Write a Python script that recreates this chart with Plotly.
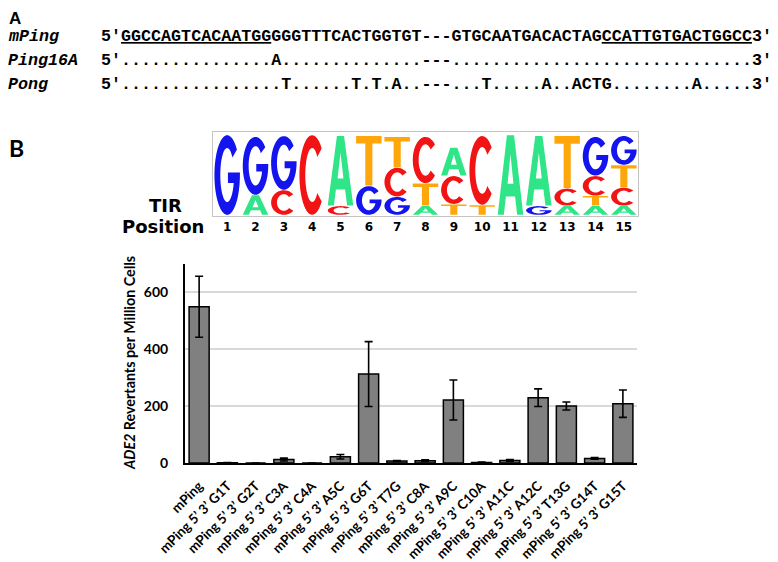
import numpy as np
import plotly.graph_objects as go

# the page body has an 8px margin, so the figure is drawn 8px in from the window corner
OFF = 8
W, H = 778 - OFF, 562 - OFF

# ---------------- data ----------------
mutants = ["mPing", "mPing 5’ 3’ G1T", "mPing 5’ 3’ G2T", "mPing 5’ 3’ C3A",
           "mPing 5’ 3’ C4A", "mPing 5’ 3’ A5C", "mPing 5’ 3’ G6T", "mPing 5’ 3’ T7G",
           "mPing 5’ 3’ C8A", "mPing 5’ 3’ A9C", "mPing 5’ 3’ C10A", "mPing 5’ 3’ A11C",
           "mPing 5’ 3’ A12C", "mPing 5’ 3’ T13G", "mPing 5’ 3’ G14T", "mPing 5’ 3’ G15T"]
revertants = [548, 1, 0, 12, 0, 22, 312, 7, 8, 221, 2, 9, 229, 200, 16, 208]
rev_err = [107, 1, 0, 5, 0, 8, 114, 2, 3, 70, 1, 3, 31, 14, 3, 48]
y_ticks = [0, 200, 400, 600]

seq_names = ["mPing", "Ping16A", "Pong"]
seq_mping_tir5 = "GGCCAGTCACAATGG"
seq_mping_mid1 = "GGGTTTCACTGGTGT"
seq_mping_mid2 = "GTGCAATGACACTAG"
seq_mping_tir3 = "CCATTGTGACTGGCC"
seq_ping16a = "...............A..............---.............................."
seq_pong = "................T......T.T.A..---...T.....A..ACTG........A....."

logo_positions = list(range(1, 16))
# stacks bottom -> top : (letter, height as fraction of logo box)
logo_stacks = [
    [("G", 0.96)],
    [("A", 0.24), ("G", 0.70)],
    [("C", 0.30), ("G", 0.65)],
    [("C", 0.96)],
    [("C", 0.11), ("A", 0.84)],
    [("G", 0.35), ("T", 0.60)],
    [("G", 0.22), ("C", 0.35), ("T", 0.37)],
    [("A", 0.11), ("T", 0.27), ("C", 0.56)],
    [("T", 0.13), ("C", 0.34), ("A", 0.34)],
    [("T", 0.12), ("C", 0.83)],
    [("A", 0.96)],
    [("G", 0.11), ("A", 0.84)],
    [("A", 0.11), ("C", 0.21), ("T", 0.63)],
    [("A", 0.11), ("T", 0.12), ("C", 0.24), ("G", 0.47)],
    [("A", 0.11), ("C", 0.22), ("T", 0.27), ("G", 0.35)],
]
letter_colors = {"A": "#2FE587", "C": "#F21414", "G": "#1414EE", "T": "#FFA70A"}

# ---------------- helpers ----------------
def px(x):
    return (x - OFF) / W

def py(y):
    return 1 - (y - OFF) / H

def arc(a0, a1, rx, ry, n=36):
    t = np.radians(np.linspace(a0, a1, n))
    return list(zip(0.5 + rx * np.cos(t), 0.5 + ry * np.sin(t)))

g_inner_start = 360 + np.degrees(np.arcsin((0.40 - 0.5) / 0.34))
GLYPHS = {
    "A": [[(0, 0), (0.36, 1), (0.64, 1), (1, 0), (0.76, 0), (0.68, 0.23), (0.32, 0.23), (0.24, 0)],
          [(0.385, 0.39), (0.615, 0.39), (0.5, 0.76)]],
    "T": [[(0, 1), (1, 1), (1, 0.85), (0.64, 0.85), (0.64, 0), (0.36, 0), (0.36, 0.85), (0, 0.85)]],
    "C": [arc(42, 318, 0.5, 0.5) + arc(318, 42, 0.27, 0.34)],
    "G": [arc(40, 356, 0.5, 0.5) + [(1.0, 0.53), (0.53, 0.53), (0.53, 0.40)]
          + arc(g_inner_start, 40, 0.27, 0.34)],
}

def glyph_path(letter, xc, y0, h, pad=0.05, gap=0.006):
    x0 = xc - 0.5 + pad
    w = 1 - 2 * pad
    y0g = y0 + gap / 2
    hg = max(h - gap, 0.001)
    parts = []
    for poly in GLYPHS[letter]:
        pts = ["%.4f,%.4f" % (x0 + u * w, y0g + v * hg) for u, v in poly]
        parts.append("M" + " L".join(pts) + " Z")
    return " ".join(parts)

# ---------------- figure ----------------
fig = go.Figure()

fig.add_trace(go.Bar(
    x=mutants, y=revertants,
    error_y=dict(type="data", array=rev_err, color="black", thickness=1.6, width=4),
    marker=dict(color="#808080", line=dict(color="black", width=1.5)),
    width=0.71, xaxis="x", yaxis="y",
))

# invisible trace so the logo axes exist
fig.add_trace(go.Scatter(x=logo_positions, y=[0] * len(logo_positions), mode="markers",
                         marker=dict(opacity=0), xaxis="x2", yaxis="y2", hoverinfo="skip"))

shapes = []
for pos, stack in zip(logo_positions, logo_stacks):
    ybase = 0.008
    for letter, h in stack:
        shapes.append(dict(type="path", xref="x2", yref="y2",
                           path=glyph_path(letter, pos, ybase, h),
                           fillcolor=letter_colors[letter], line=dict(width=0),
                           fillrule="evenodd", layer="above"))
        ybase += h

annotations = []
annotations.append(dict(text="<b>A</b>", x=px(8), y=py(8), xref="paper", yref="paper",
                        xanchor="left", yanchor="top", showarrow=False, borderpad=0,
                        font=dict(family="Liberation Sans", size=17, color="black")))
annotations.append(dict(text="<b>B</b>", x=px(7), y=py(148), xref="paper", yref="paper",
                        xanchor="left", yanchor="middle", showarrow=False,
                        font=dict(family="Lato", size=23, color="black")))

row_y = [37, 60, 85]
seq_texts = [
    "5′<u>" + seq_mping_tir5 + "</u>" + seq_mping_mid1 + "---" + seq_mping_mid2
    + "<u>" + seq_mping_tir3 + "</u>3′",
    "5′" + seq_ping16a + "3′",
    "5′" + seq_pong + "3′",
]
mono = dict(family="Liberation Mono", size=16.7, color="black")
for name, txt, yy in zip(seq_names, seq_texts, row_y):
    annotations.append(dict(text="<b><i>" + name + "</i></b>", x=px(7), y=py(yy),
                            xref="paper", yref="paper", xanchor="left", yanchor="middle",
                            showarrow=False, font=mono, borderpad=0))
    annotations.append(dict(text="<b>" + txt + "</b>", x=px(99), y=py(yy),
                            xref="paper", yref="paper", xanchor="left", yanchor="middle",
                            showarrow=False, font=mono))

annotations.append(dict(text="<b>TIR</b>", x=px(165), y=py(206), xref="paper", yref="paper",
                        showarrow=False, xanchor="center", yanchor="middle",
                        font=dict(family="DejaVu Sans", size=18, color="black")))
annotations.append(dict(text="<b>Position</b>", x=px(163), y=py(226), xref="paper", yref="paper",
                        showarrow=False, xanchor="center", yanchor="middle",
                        font=dict(family="DejaVu Sans", size=18, color="black")))

annotations.append(dict(text="<b><i>ADE2</i> Revertants per Million Cells</b>",
                        x=px(129), y=py(363), xref="paper", yref="paper", textangle=-90,
                        showarrow=False, xanchor="center", yanchor="middle",
                        font=dict(family="Lato", size=14.3, color="black")))

fig.update_layout(
    template="none",
    width=W, height=H,
    margin=dict(l=0, r=0, t=0, b=0, autoexpand=False),
    paper_bgcolor="white", plot_bgcolor="white",
    showlegend=False,
    shapes=shapes,
    annotations=annotations,
    xaxis=dict(domain=[px(185), px(637)], anchor="y", range=[-0.5, 15.5], automargin=False,
               showline=True, linecolor="black", linewidth=1.6,
               showgrid=False, zeroline=False, ticks="", tickangle=-45, ticklabelstandoff=8,
               tickfont=dict(family="Lato", size=13.5, color="black", weight="bold")),
    yaxis=dict(domain=[py(463), py(263.5)], anchor="x", range=[0, 700], automargin=False,
               tickvals=y_ticks, showline=True, linecolor="black", linewidth=2,
               showgrid=True, gridcolor="#d9d9d9", gridwidth=1.5, zeroline=False,
               ticks="", ticklabelstandoff=12,
               tickfont=dict(family="Lato", size=14, color="black", weight="bold")),
    xaxis2=dict(domain=[px(213), px(638)], anchor="y2", range=[0.5, 15.5], automargin=False,
                tickvals=logo_positions, ticktext=[str(p) for p in logo_positions],
                showline=True, mirror=True, linecolor="#c4c4c4", linewidth=1,
                showgrid=False, zeroline=False, ticks="",
                tickfont=dict(family="DejaVu Sans", size=12, color="black", weight="bold")),
    yaxis2=dict(domain=[py(215.7), py(132.3)], anchor="x2", range=[0, 1], automargin=False,
                showline=True, mirror=True, linecolor="#c4c4c4", linewidth=1,
                showgrid=False, zeroline=False, showticklabels=False, ticks=""),
)

fig.write_html("out.html")
